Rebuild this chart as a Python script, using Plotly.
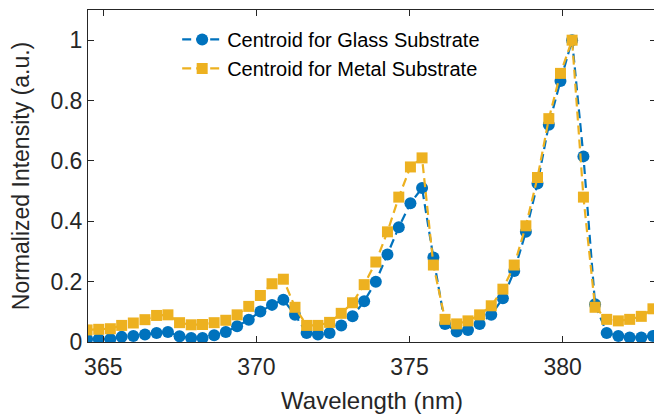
import plotly.graph_objects as go

wavelength = [364.47, 364.85, 365.23, 365.60, 365.98, 366.36, 366.74, 367.11, 367.49, 367.87, 368.24,
              368.62, 369.00, 369.37, 369.75, 370.13, 370.51, 370.88, 371.26, 371.64, 372.01,
              372.39, 372.77, 373.14, 373.52, 373.90, 374.28, 374.65, 375.03, 375.41, 375.78,
              376.16, 376.54, 376.91, 377.29, 377.67, 378.05, 378.42, 378.80, 379.18, 379.55,
              379.93, 380.31, 380.68, 381.06, 381.44, 381.82, 382.19, 382.57, 382.95]

glass = [0.010, 0.010, 0.010, 0.017, 0.020, 0.025, 0.030, 0.033, 0.019, 0.013, 0.013,
         0.022, 0.033, 0.052, 0.074, 0.101, 0.123, 0.140, 0.090, 0.030, 0.025,
         0.030, 0.055, 0.085, 0.135, 0.200, 0.290, 0.380, 0.460, 0.510, 0.280,
         0.060, 0.035, 0.040, 0.060, 0.090, 0.145, 0.235, 0.365, 0.525, 0.720,
         0.865, 1.000, 0.615, 0.125, 0.030, 0.020, 0.015, 0.015, 0.020]

metal = [0.040, 0.042, 0.044, 0.055, 0.063, 0.074, 0.088, 0.090, 0.064, 0.057, 0.058,
         0.064, 0.072, 0.090, 0.118, 0.154, 0.193, 0.208, 0.115, 0.055, 0.055,
         0.065, 0.095, 0.130, 0.190, 0.265, 0.365, 0.480, 0.580, 0.610, 0.255,
         0.075, 0.060, 0.070, 0.090, 0.120, 0.175, 0.255, 0.385, 0.545, 0.740,
         0.890, 1.000, 0.480, 0.115, 0.075, 0.070, 0.075, 0.085, 0.110]

x_ticks = [365, 370, 375, 380]
y_ticks = [0, 0.2, 0.4, 0.6, 0.8, 1]
y_tick_labels = ["0", "0.2", "0.4", "0.6", "0.8", "1"]

BLUE = "#0072BD"
ORANGE = "#EDB120"
INK = "#262626"
FONT = "Liberation Sans, Arial, sans-serif"

fig = go.Figure()
fig.add_trace(go.Scatter(
    x=wavelength, y=glass, mode="lines+markers", name="Centroid for Glass Substrate",
    line=dict(color=BLUE, width=2.2, dash="9px,5px"),
    marker=dict(symbol="circle", size=12, color=BLUE),
))
fig.add_trace(go.Scatter(
    x=wavelength, y=metal, mode="lines+markers", name="Centroid for Metal Substrate",
    line=dict(color=ORANGE, width=2.2, dash="9px,5px"),
    marker=dict(symbol="square", size=11, color=ORANGE),
))

axis_common = dict(
    showline=True, linecolor=INK, linewidth=1, mirror="ticks",
    ticks="inside", ticklen=6, tickcolor=INK, showgrid=False, zeroline=False,
    tickfont=dict(family=FONT, size=23, color=INK), automargin=False,
)

fig.update_xaxes(
    range=[364.5, 383.05], tickvals=x_ticks, ticklabelstandoff=4,
    title=dict(text="Wavelength (nm)", font=dict(family=FONT, size=24, color=INK)),
    **axis_common,
)
fig.update_yaxes(
    range=[0, 1.1], tickvals=y_ticks, ticktext=y_tick_labels,
    title=dict(text="Normalized Intensity (a.u.)", font=dict(family=FONT, size=23, color=INK)),
    **axis_common,
)

# page body adds an 8px margin, so the figure is 654x406 and offset accordingly
fig.update_layout(
    width=654, height=406,
    margin=dict(l=80, r=6, t=2, b=72),
    paper_bgcolor="white", plot_bgcolor="white",
    font=dict(family=FONT, color=INK),
    legend=dict(
        x=0.157, y=0.97, xanchor="left", yanchor="top",
        bgcolor="rgba(0,0,0,0)", borderwidth=0,
        font=dict(family=FONT, size=20, color="black"),
        itemwidth=40, tracegroupgap=0,
    ),
    showlegend=True,
)

fig.write_html("out.html")
